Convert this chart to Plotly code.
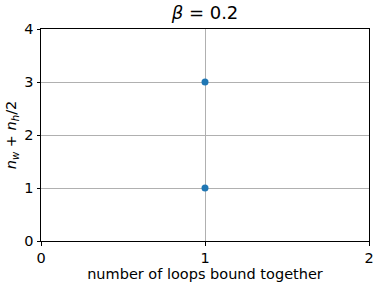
import plotly.graph_objects as go

x_vals = [1, 1]
y_vals = [1, 3]
x_ticks = [0, 1, 2]
y_ticks = [0, 1, 2, 3, 4]

fig = go.Figure()
fig.add_trace(go.Scatter(
    x=x_vals, y=y_vals, mode="markers",
    marker=dict(color="#1f77b4", size=7, line=dict(width=0)),
    showlegend=False,
))

axis_common = dict(
    showline=True, linecolor="black", linewidth=1, mirror=True,
    ticks="outside", ticklen=3.5, tickwidth=1, tickcolor="black",
    showgrid=True, gridcolor="#b0b0b0", gridwidth=0.8,
    zeroline=False, automargin=False,
    tickfont=dict(family="DejaVu Sans", size=14.5, color="black"),
)

fig.update_layout(
    width=381, height=288,
    margin=dict(l=41, r=12, t=29, b=47, autoexpand=False),
    paper_bgcolor="white", plot_bgcolor="white",
    title=dict(text="<i>β</i> = 0.2", x=0.5, xanchor="center",
               xref="paper", y=1, yref="container", yanchor="top", pad=dict(t=6),
               font=dict(family="DejaVu Sans", size=18, color="black")),
    xaxis=dict(range=[0, 2], tickvals=x_ticks,
               title=dict(text="number of loops bound together", standoff=2,
                          font=dict(family="DejaVu Sans", size=14.5, color="black")),
               **axis_common),
    yaxis=dict(range=[0, 4], tickvals=y_ticks,
               title=dict(text="<i>n</i><sub><i>w</i></sub> + <i>n</i><sub><i>h</i></sub>/2", standoff=4,
                          font=dict(family="DejaVu Sans", size=14.5, color="black")),
               **axis_common),
)

fig.write_html("out.html", config={"displayModeBar": False},
               post_script="document.body.style.margin='0';document.body.style.overflow='hidden';")
